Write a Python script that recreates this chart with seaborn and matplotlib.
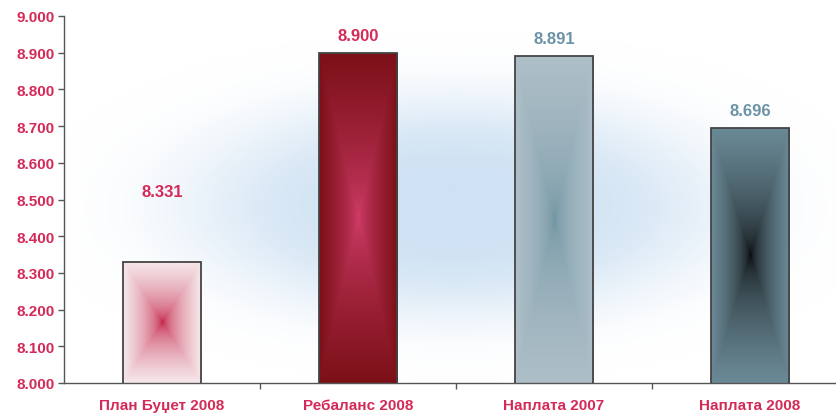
import numpy as np
import pandas as pd
import matplotlib
matplotlib.use("Agg")
import matplotlib.pyplot as plt
import seaborn as sns
from matplotlib.colors import LinearSegmentedColormap
from matplotlib.ticker import FuncFormatter, MultipleLocator, FixedLocator

categories = ["План Буџет 2008", "Ребаланс 2008", "Наплата 2007", "Наплата 2008"]
values = [8.331, 8.900, 8.891, 8.696]
value_labels = ["8.331", "8.900", "8.891", "8.696"]

# gradient centre / edge colours per bar
centre_colors = ["#c0103a", "#d23e6c", "#6b919f", "#000000"]
edge_colors = ["#f6e9eb", "#7c1018", "#aebfc8", "#6b8a97"]
label_colors = ["#d42a58", "#d42a58", "#6b93a8", "#6b93a8"]
label_offsets = [45, 7, 7, 7]
grad_power = [0.5, 0.7, 0.5, 0.5]

red = "#d42a58"

sns.set_style("white")
plt.rcParams["font.family"] = ["Liberation Sans", "DejaVu Sans"]

fig = plt.figure(figsize=(8.36, 4.14), dpi=100)
ax = fig.add_axes([64 / 836, 1 - 384 / 414, 784 / 836, 367 / 414])

df = pd.DataFrame({"cat": categories, "val": values})
sns.barplot(data=df, x="cat", y="val", width=0.4, ax=ax, color="white",
            edgecolor="#444444", linewidth=1.3)

ax.set_xlim(-0.5, 3.5)
ax.set_ylim(8.0, 9.0)

# soft blue glow in the background
gx, gy = np.meshgrid(np.linspace(0, 1, 400), np.linspace(0, 1, 200))
r = ((gx - 0.5) / 0.34) ** 2 + ((gy - 0.52) / 0.30) ** 2
glow = np.exp(-r ** 1.8)
bg_cmap = LinearSegmentedColormap.from_list("bg", ["#ffffff", "#cfe2f3"])
ax.imshow(glow, cmap=bg_cmap, extent=[0, 1, 0, 1], transform=ax.transAxes,
          aspect="auto", zorder=0, vmin=0, vmax=1, interpolation="bilinear")

# rectangular path gradient inside each bar
for patch, c0, c1, pw in zip(ax.patches, centre_colors, edge_colors, grad_power):
    x0 = patch.get_x()
    w = patch.get_width()
    y_top = patch.get_y() + patch.get_height()
    y_bot = 8.0
    u, v = np.meshgrid(np.linspace(-1, 1, 200), np.linspace(-1, 1, 400))
    t = np.maximum(np.abs(u), np.abs(v)) ** pw
    cmap = LinearSegmentedColormap.from_list("g", [c0, c1])
    im = ax.imshow(t, cmap=cmap, extent=[x0, x0 + w, y_bot, y_top],
                   aspect="auto", zorder=2, vmin=0, vmax=1,
                   interpolation="bilinear")
    im.set_clip_path(patch)
    patch.set_facecolor("none")
    patch.set_zorder(3)

for i, (v, lab) in enumerate(zip(values, value_labels)):
    ax.annotate(lab, (i, v), xytext=(0, label_offsets[i]), textcoords="offset points",
                ha="center", va="bottom", color=label_colors[i],
                fontsize=12, fontweight="bold")

ax.yaxis.set_major_locator(MultipleLocator(0.1))
ax.yaxis.set_major_formatter(FuncFormatter(lambda y, p: f"{y:.3f}"))
ax.tick_params(axis="y", which="major", left=True, length=4, width=1,
               color="#555555", labelcolor=red, labelsize=11, pad=3)
ax.tick_params(axis="x", which="major", bottom=False, labelcolor=red,
               labelsize=11, pad=7)
ax.xaxis.set_minor_locator(FixedLocator([0.5, 1.5, 2.5]))
ax.tick_params(axis="x", which="minor", bottom=True, length=4, width=1, color="#555555")
for lbl in ax.get_xticklabels() + ax.get_yticklabels():
    lbl.set_fontweight("bold")

ax.set_xlabel("")
ax.set_ylabel("")
for s in ["top", "right"]:
    ax.spines[s].set_visible(False)
for s in ["left", "bottom"]:
    ax.spines[s].set_color("#555555")
    ax.spines[s].set_linewidth(1)

fig.savefig("out.png", dpi=100)
